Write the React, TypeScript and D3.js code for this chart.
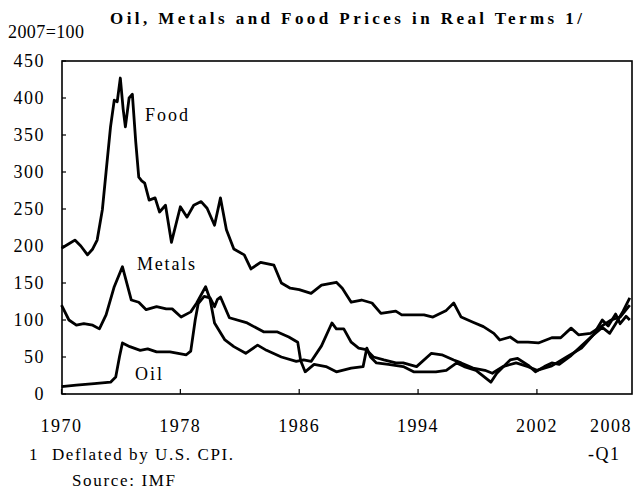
import * as d3 from 'd3';

// values, 2007 = 100
const foodPoints: [number, number][] = [
  [1970, 197], [1970.5, 203], [1970.9, 208], [1971.3, 200], [1971.75, 188],
  [1972.1, 196], [1972.4, 208], [1972.75, 249], [1973.0, 300], [1973.3, 361],
  [1973.55, 397], [1973.75, 395], [1973.96, 427], [1974.15, 385], [1974.3, 361],
  [1974.55, 400], [1974.77, 405], [1975.0, 340], [1975.2, 293], [1975.4, 288],
  [1975.6, 285], [1975.9, 262], [1976.3, 265], [1976.6, 246], [1977.0, 255],
  [1977.4, 205], [1978.0, 253], [1978.45, 239], [1978.9, 255], [1979.4, 260],
  [1979.8, 251], [1980.3, 228], [1980.7, 265], [1981.1, 222], [1981.6, 196],
  [1982.3, 188], [1982.75, 169], [1983.4, 178], [1984.3, 174], [1984.8, 150],
  [1985.4, 143], [1986.0, 141], [1986.8, 136], [1987.5, 147], [1988.5, 151],
  [1988.9, 143], [1989.5, 124], [1990.2, 127], [1990.9, 123], [1991.5, 109],
  [1992.5, 112], [1992.9, 107], [1993.7, 107], [1994.4, 107], [1995.0, 104],
  [1995.9, 113], [1996.4, 123], [1996.9, 104], [1997.7, 97], [1998.4, 91],
  [1999.1, 82], [1999.5, 73], [2000.2, 77], [2000.7, 70], [2001.4, 70],
  [2002.1, 69], [2003.0, 76], [2003.6, 76], [2004.3, 89], [2004.8, 80],
  [2005.6, 82], [2006.3, 91], [2007.0, 100], [2007.6, 104], [2008.25, 120],
];

const metalsPoints: [number, number][] = [
  [1970, 120], [1970.5, 100], [1971.0, 93], [1971.5, 95], [1972.1, 93],
  [1972.55, 88], [1973.0, 107], [1973.55, 145], [1974.1, 172], [1974.7, 127],
  [1975.2, 124], [1975.7, 114], [1976.4, 118], [1977.05, 115], [1977.45, 115],
  [1978.05, 104], [1978.7, 111], [1979.1, 123], [1979.7, 145], [1980.0, 128],
  [1980.3, 96], [1981.0, 73], [1981.6, 64], [1982.4, 55], [1983.2, 66],
  [1983.8, 59], [1984.8, 50], [1985.8, 44], [1986.3, 46], [1986.8, 44],
  [1987.5, 65], [1988.2, 96], [1988.5, 88], [1989.0, 88], [1989.5, 70],
  [1990.0, 62], [1990.5, 60], [1991.0, 50], [1991.7, 46], [1992.5, 42],
  [1993.0, 42], [1993.9, 37], [1994.9, 55], [1995.6, 53], [1996.4, 46],
  [1996.9, 42], [1997.7, 35], [1998.5, 32], [1999.0, 28], [1999.7, 37],
  [2000.6, 42], [2001.4, 37], [2002.0, 32], [2003.0, 38], [2004.0, 50],
  [2005.0, 62], [2005.8, 80], [2006.4, 100], [2006.8, 92], [2007.3, 108],
  [2007.6, 95], [2008.0, 105], [2008.25, 100],
];

const oilPoints: [number, number][] = [
  [1970, 10], [1971.0, 12], [1972.2, 14], [1973.3, 16], [1973.65, 23],
  [1973.9, 50], [1974.1, 69], [1974.6, 64], [1975.3, 59], [1975.8, 61],
  [1976.4, 57], [1977.3, 57], [1978.4, 53], [1978.7, 58], [1979.0, 100],
  [1979.2, 122], [1979.6, 132], [1980.0, 130], [1980.3, 118], [1980.5, 128],
  [1980.7, 131], [1981.3, 103], [1982.5, 96], [1983.6, 84], [1984.5, 84],
  [1985.3, 77], [1985.9, 70], [1986.1, 45], [1986.4, 30], [1987.0, 40],
  [1987.8, 37], [1988.5, 30], [1989.5, 35], [1990.3, 37], [1990.55, 62],
  [1990.8, 50], [1991.2, 42], [1992.0, 40], [1993.0, 37], [1993.7, 30],
  [1994.4, 30], [1995.2, 30], [1995.9, 32], [1996.6, 42], [1997.1, 37],
  [1997.9, 32], [1998.9, 16], [1999.3, 28], [2000.2, 46], [2000.7, 48],
  [2001.4, 39], [2001.9, 30], [2002.5, 37], [2003.0, 42], [2003.5, 40],
  [2004.3, 52], [2005.0, 65], [2005.7, 78], [2006.4, 90], [2006.9, 82],
  [2007.3, 95], [2007.8, 112], [2008.25, 130],
];

const yTicks = [0, 50, 100, 150, 200, 250, 300, 350, 400, 450];
const xTicks = [1970, 1978, 1986, 1994, 2002];

const W = 633;
const H = 493;
const font = "'Liberation Serif', 'DejaVu Serif', serif";

const xScale = d3.scaleLinear().domain([1970, 2008.4]).range([61.5, 632]);
const yScale = d3.scaleLinear().domain([0, 450]).range([394, 61]);

const line = d3
  .line<[number, number]>()
  .x((d) => xScale(d[0]))
  .y((d) => yScale(d[1]));

const App = () => {
  const series = [foodPoints, metalsPoints, oilPoints];
  return (
    <svg
      width={W}
      height={H}
      style={{ position: 'absolute', left: 0, top: 0, background: 'white', fontFamily: font }}
    >
      {/* title */}
      <text x={110} y={24} fontSize={17} fontWeight="bold" textLength={472} lengthAdjust="spacing">
        Oil, Metals and Food Prices in Real Terms 1/
      </text>
      <text x={8} y={38} fontSize={18} textLength={76} lengthAdjust="spacing">
        2007=100
      </text>

      {/* frame */}
      <rect
        x={xScale(1970) + 0.5}
        y={yScale(450)}
        width={632 - xScale(1970) - 0.5}
        height={yScale(0) - yScale(450)}
        fill="none"
        stroke="black"
        strokeWidth={1.6}
      />

      {/* y axis */}
      {yTicks.map((t) => (
        <g key={t}>
          <line x1={62} x2={66} y1={yScale(t)} y2={yScale(t)} stroke="black" strokeWidth={1.2} />
          <text
            x={45}
            y={yScale(t)}
            dy="0.35em"
            fontSize={18}
            textAnchor="end"
            letterSpacing={1.5}
          >
            {t}
          </text>
        </g>
      ))}

      {/* x axis */}
      {xTicks.map((t) => (
        <g key={t}>
          <line x1={xScale(t)} x2={xScale(t)} y1={394} y2={389} stroke="black" strokeWidth={1.2} />
          <text x={xScale(t)} y={432} fontSize={18} textAnchor="middle" letterSpacing={1.5}>
            {t}
          </text>
        </g>
      ))}
      <text x={632} y={432} fontSize={18} textAnchor="end" letterSpacing={1.5}>
        2008
      </text>
      <text x={588} y={460} fontSize={18} letterSpacing={1.5}>
        -Q1
      </text>

      {/* series */}
      {series.map((s, i) => (
        <path
          key={i}
          d={line(s) ?? ''}
          fill="none"
          stroke="black"
          strokeWidth={2.8}
          strokeLinejoin="round"
        />
      ))}

      {/* series labels */}
      <text x={145} y={121} fontSize={18} textLength={43} lengthAdjust="spacing">
        Food
      </text>
      <text x={137} y={270} fontSize={18} textLength={58} lengthAdjust="spacing">
        Metals
      </text>
      <text x={135} y={380} fontSize={18} textLength={27} lengthAdjust="spacing">
        Oil
      </text>

      {/* notes */}
      <text x={29} y={460} fontSize={17}>
        1
      </text>
      <text x={52} y={460} fontSize={17} textLength={181} lengthAdjust="spacing">
        Deflated by U.S. CPI.
      </text>
      <text x={72} y={486} fontSize={17} textLength={103} lengthAdjust="spacing">
        Source: IMF
      </text>
    </svg>
  );
};

export default App;
